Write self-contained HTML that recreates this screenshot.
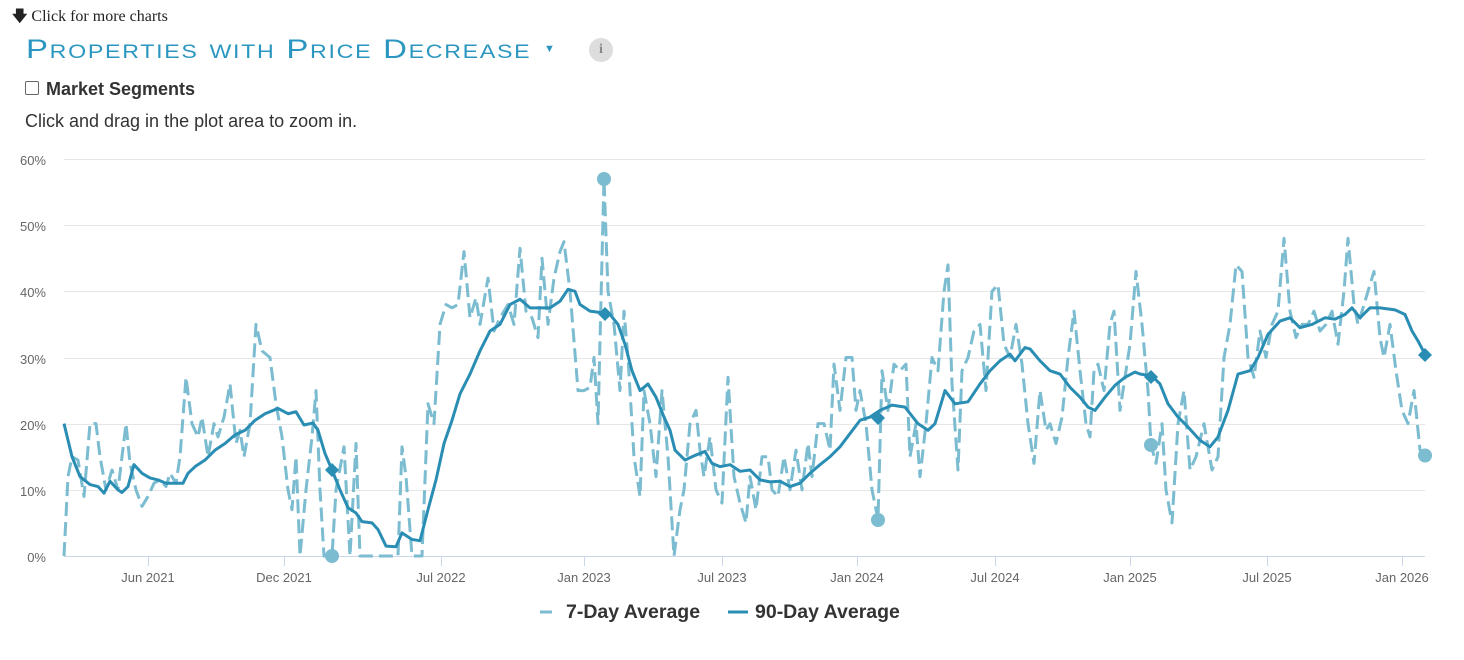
<!DOCTYPE html>
<html><head><meta charset="utf-8">
<style>
body{margin:0;background:#fff;width:1464px;height:660px;overflow:hidden;position:relative;font-family:"Liberation Sans",sans-serif}
.t{position:absolute;white-space:nowrap}
</style></head><body>
<div class="t" style="left:12px;top:6px;font-family:'Liberation Serif',serif;font-size:16px;color:#222"><b style="font-family:'DejaVu Sans';font-size:15px">&#129095;</b> Click for more charts</div>
<div class="t" style="left:26px;top:34px;font-size:27px;color:#2b97c0;font-variant:small-caps;letter-spacing:1.4px;transform:scaleX(1.22);transform-origin:left">Properties with Price Decrease</div>
<div class="t" style="left:544px;top:43px;font-size:11px;color:#2b97c0">&#9660;</div>
<div class="t" style="left:589px;top:38px;width:24px;height:24px;border-radius:12px;background:#ddd;color:#888;font-family:'Liberation Serif',serif;font-weight:bold;font-size:14px;text-align:center;line-height:24px">i</div>
<div class="t" style="left:25px;top:81px;width:12px;height:12px;border:1px solid #666;border-radius:2px"></div>
<div class="t" style="left:46px;top:79px;font-size:18px;font-weight:bold;color:#333">Market Segments</div>
<div class="t" style="left:25px;top:111px;font-size:18px;color:#333">Click and drag in the plot area to zoom in.</div>
<svg width="1464" height="660" style="position:absolute;left:0;top:0" font-family="Liberation Sans, sans-serif">
<g stroke="#e6e6e6" stroke-width="1">
<line x1="64" x2="1425" y1="159.5" y2="159.5"/><line x1="64" x2="1425" y1="225.5" y2="225.5"/><line x1="64" x2="1425" y1="291.5" y2="291.5"/><line x1="64" x2="1425" y1="358.5" y2="358.5"/><line x1="64" x2="1425" y1="424.5" y2="424.5"/><line x1="64" x2="1425" y1="490.5" y2="490.5"/>
</g>
<line x1="64" x2="1425" y1="556.5" y2="556.5" stroke="#ccd6eb"/>
<g stroke="#ccd6eb"><line x1="148.5" x2="148.5" y1="556" y2="566"/><line x1="284.5" x2="284.5" y1="556" y2="566"/><line x1="441.5" x2="441.5" y1="556" y2="566"/><line x1="584.5" x2="584.5" y1="556" y2="566"/><line x1="722.5" x2="722.5" y1="556" y2="566"/><line x1="857.5" x2="857.5" y1="556" y2="566"/><line x1="995.5" x2="995.5" y1="556" y2="566"/><line x1="1130.5" x2="1130.5" y1="556" y2="566"/><line x1="1267.5" x2="1267.5" y1="556" y2="566"/><line x1="1402.5" x2="1402.5" y1="556" y2="566"/></g>
<g fill="#666" font-size="13" text-anchor="end">
<text x="46" y="165">60%</text><text x="46" y="231">50%</text><text x="46" y="297">40%</text><text x="46" y="364">30%</text><text x="46" y="430">20%</text><text x="46" y="496">10%</text><text x="46" y="562">0%</text>
</g>
<g fill="#666" font-size="13" text-anchor="middle">
<text x="148" y="582">Jun 2021</text><text x="284" y="582">Dec 2021</text><text x="441" y="582">Jul 2022</text><text x="584" y="582">Jan 2023</text><text x="722" y="582">Jul 2023</text><text x="857" y="582">Jan 2024</text><text x="995" y="582">Jul 2024</text><text x="1130" y="582">Jan 2025</text><text x="1267" y="582">Jul 2025</text><text x="1402" y="582">Jan 2026</text>
</g>
<g transform="translate(0,556) scale(1,-6.617)" fill="none">
<polyline vector-effect="non-scaling-stroke" stroke="#7bbcd0" stroke-width="3" stroke-dasharray="14,6" stroke-linejoin="round" points="64,0 68,12 72,15 78,14.5 84,9 90,20 96,20 100,15 106,10 112,13 118,10 126,20 130,14 136,10 142,7.5 148,9 154,11 160,11.5 166,10.5 170,12.5 176,11 180,15 186,27 192,20 198,18 202,21 208,15 214,20 218,18 224,21 230,26 236,17 240,19 244,15 250,20 256,35 262,31 270,30 276,23 282,18 288,10 292,7 296,15 300,0 306,10 312,18 316,25 320,10 324,0 328,0 332,0 336,10 344,16.5 350,0 356,17 360,0 366,0 380,0 386,0 392,0 398,0 402,16.5 406,12 412,0 418,0 422,0 428,23 434,20 440,35 446,38 452,37.5 458,38 464,46 470,36 476,39 480,35 488,42 494,34 500,36 508,38 514,35 520,46.5 526,37 532,36 538,33 542,45 548,35 554,42 560,46 564,47.5 570,40 578,25 584,25 590,25.5 594,30 598,20 602,45 604,57 608,40 614,35 620,25 624,37 628,30 634,15 640,9 644,25 650,20 656,12 662,25 668,15 674,0 680,7 684,10 690,20 696,22 700,16 704,12 710,18 716,10 722,8 728,27 734,12 740,8 746,5 750,12 756,7 762,15 768,15 772,10 778,9 784,15 790,10 796,16 802,10 808,17 812,12 818,20 824,20 830,16 834,29 840,22 846,30 852,30 856,22 860,25 866,20 872,10 878,5.5 882,28 888,22 894,29 900,28 906,29 910,15 916,20 920,12 926,20 932,30 938,28 944,40 948,44 952,26 958,13 962,28 968,30 974,34 980,35 986,25 992,40 998,41 1004,32 1010,30 1016,35 1022,29 1028,20 1034,14 1040,25 1046,19 1050,20 1056,17 1062,21 1068,30 1074,37 1080,28 1086,20 1090,18 1094,28 1098,29 1104,25 1110,35 1114,37 1120,22 1126,28 1130,32 1136,43 1142,35 1148,25 1151,16.8 1156,14 1162,20 1166,10 1172,5 1178,20 1184,25 1190,13 1196,15 1204,20 1212,13 1218,15 1224,30 1230,35 1236,44 1242,43 1248,30 1254,27 1260,34 1266,30 1272,35 1278,37 1284,48 1290,37 1296,33 1302,35 1308,35 1314,37 1320,34 1326,35 1332,37 1338,32 1344,40 1348,48 1354,38 1358,35 1362,37 1368,40 1374,43 1380,33 1384,30 1390,35 1396,28 1402,22 1408,20 1414,25 1420,16 1425,15.2"/>
<polyline vector-effect="non-scaling-stroke" stroke="#2a8db3" stroke-width="3" stroke-linejoin="round" points="64,20 72,15 80,12 90,10.8 98,10.5 104,9.5 110,11.3 118,10 122,9.6 128,10.5 134,13.8 142,12.5 150,11.8 158,11.5 166,11 175,11 183,11 188,12.5 195,13.5 205,14.5 215,16 225,17 235,18.3 245,19 255,20.5 265,21.5 278,22.3 288,21.5 296,21.8 304,19.8 313,20.1 318,19 325,15.5 332,13 340,10 348,7.3 356,6.5 362,5.2 372,5 378,4 386,1.5 396,1.4 402,3.5 412,2.5 420,2.3 428,7 436,11.5 444,17 452,20.5 460,24.5 470,27.5 480,31 490,34 500,35 510,38 520,38.8 530,37.5 540,37.5 550,37.5 560,38.5 568,40.3 575,40 580,38 590,37 600,36.8 610,36.5 618,35 625,32 632,28 640,25 648,26 656,24 664,21 670,19 675,16 685,14.5 695,15.2 705,15.8 712,14 720,13.5 730,13.8 740,12.8 750,13 760,11.5 770,11.2 780,11.3 790,10.5 800,11 810,12.5 820,13.8 830,15 840,16.5 850,18.5 860,20.5 870,21 880,22 892,22.8 905,22.5 918,20 928,19 935,20 945,25 955,23 968,23.3 980,26 990,28 1000,29.5 1010,30.5 1015,29.5 1025,31.5 1030,31.3 1040,29.5 1050,28 1060,27.5 1070,25.5 1080,24 1088,22.5 1095,22 1105,24 1115,25.8 1125,27 1135,27.8 1140,27.5 1152,27.2 1160,26 1168,23 1178,21 1188,19.5 1200,17.5 1210,16.5 1218,18 1228,22 1238,27.5 1250,28 1258,30 1268,33.5 1280,35.5 1290,36 1300,34.5 1312,35 1325,36 1335,35.8 1345,36.5 1352,37.5 1360,36 1370,37.5 1380,37.5 1395,37.2 1405,36.5 1412,34 1418,32.5 1425,30.5"/>
</g>
<g fill="#7bbcd0"><circle cx="332" cy="556" r="7"/><circle cx="604" cy="179" r="7"/><circle cx="878" cy="520" r="7"/><circle cx="1151" cy="445" r="7"/><circle cx="1425" cy="455.5" r="7"/></g>
<g fill="#2a8db3"><path d="M332 463l7 7-7 7-7-7z"/><path d="M605 307l7 7-7 7-7-7z"/><path d="M878 411l7 7-7 7-7-7z"/><path d="M1151 370l7 7-7 7-7-7z"/><path d="M1425 348l7 7-7 7-7-7z"/></g>
<line x1="540" x2="552" y1="612" y2="612" stroke="#7bbcd0" stroke-width="3"/>
<line x1="728" x2="748" y1="612" y2="612" stroke="#2a8db3" stroke-width="3"/>
<g font-size="19.5" font-weight="bold" fill="#333"><text x="566" y="618">7-Day Average</text><text x="755" y="618">90-Day Average</text></g>
</svg>
</body></html>
